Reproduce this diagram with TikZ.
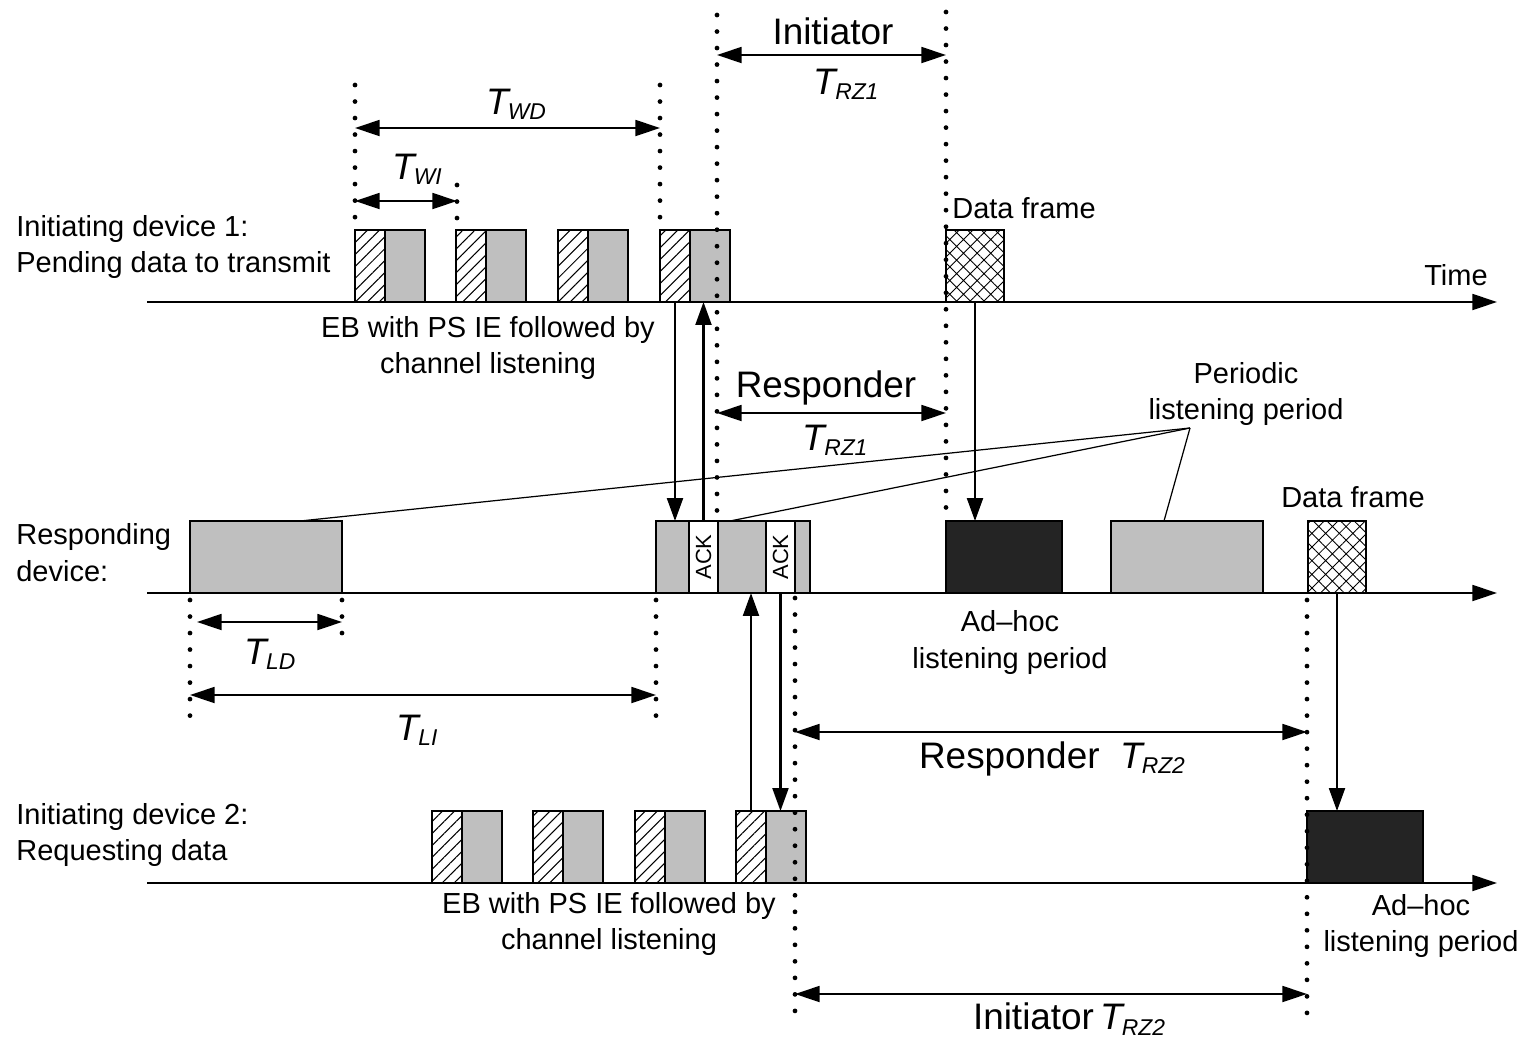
\documentclass[tikz,border=0pt]{standalone}
\usepackage{fontspec}
\setmainfont{Liberation Sans}
\usetikzlibrary{arrows.meta,patterns.meta,positioning}

\definecolor{lgrey}{gray}{0.75}
\definecolor{dgrey}{gray}{0.14}

% T with an italic subscript
\newcommand{\Tdur}[1]{{\fontsize{21}{21}\selectfont\itshape T}\kern-0.5pt\raisebox{-3pt}{\fontsize{13}{13}\selectfont\itshape #1}}

\begin{document}
\begin{tikzpicture}[
    x=0.02cm, y=-0.02cm,
    font=\fontsize{16.5}{21}\selectfont,
    frame/.style={draw, line width=1.3pt, anchor=south west, inner sep=0pt, outer sep=0pt, minimum height=1.44cm},
    ebhatch/.style={frame, minimum width=0.6cm, pattern={Lines[angle=45,distance=4.8pt,line width=0.6pt]}},
    listen/.style={frame, fill=lgrey},
    adhoc/.style={frame, fill=dgrey, minimum width=2.32cm},
    dataframe/.style={frame, minimum width=1.16cm, pattern={Hatch[angle=45,distance=5.5pt,line width=0.5pt]}},
    ackbox/.style={frame, fill=white, minimum width=0.58cm, font=\fontsize{12.5}{12.5}\selectfont},
    axis/.style={line width=1.4pt, -{Triangle[length=14pt,width=9pt]}},
    msg/.style={line width=1.4pt, -{Triangle[length=13pt,width=9pt]}},
    dim/.style={line width=1.4pt, {Triangle[length=14pt,width=9pt]}-{Triangle[length=14pt,width=9pt]}},
    guide/.style={line width=2.7pt, line cap=round, dash pattern=on 0pt off 9.4pt},
    leader/.style={line width=0.7pt},
    big/.style={font=\fontsize{21}{21}\selectfont},
    lbl/.style={align=center, inner sep=0pt}
]
\useasboundingbox (0,0) rectangle (1532,1039);

% time axes
\coordinate (a1s) at (147,302); \coordinate (a1e) at (1497,302);
\coordinate (a2s) at (147,593); \coordinate (a2e) at (1497,593);
\coordinate (a3s) at (147,883); \coordinate (a3e) at (1497,883);
\draw[axis] (a1s) -- (a1e);
\draw[axis] (a2s) -- (a2e);
\draw[axis] (a3s) -- (a3e);

% initiating device 1
\foreach \x [count=\i] in {355,456,558,660}{
    \node[ebhatch] (hA\i) at (\x,302) {};
    \node[listen, minimum width=0.8cm] (gA\i) at (hA\i.south east) {};
}
\node[dataframe] (df1) at (946,302) {};

% responding device
\node[listen, minimum width=3.04cm] (lp1) at (190,593) {};
\node[listen, minimum width=0.66cm] (rg1) at (656,593) {};
\node[ackbox] (ack1) at (rg1.south east) {\rotatebox{90}{ACK}};
\node[listen, minimum width=0.96cm] (rg2) at (ack1.south east) {};
\node[ackbox] (ack2) at (rg2.south east) {\rotatebox{90}{ACK}};
\node[listen, minimum width=0.3cm] (rg3) at (ack2.south east) {};
\node[adhoc] (ah1) at (946,593) {};
\node[listen, minimum width=3.04cm] (lp3) at (1111,593) {};
\node[dataframe] (df2) at (1308,593) {};

% initiating device 2
\foreach \x [count=\i] in {432,533,635,736}{
    \node[ebhatch] (hC\i) at (\x,883) {};
    \node[listen, minimum width=0.8cm] (gC\i) at (hC\i.south east) {};
}
\node[adhoc] (ah2) at (1307,883) {};

% dotted guides
\draw[guide] (355,85) -- (355,222);
\draw[guide] (457,185) -- (457,222);
\draw[guide] (660,85) -- (660,222);
\draw[guide] (717,15) -- (717,515);
\draw[guide] (946,12) -- (946,515);
\draw[guide] (190,600) -- (190,718);
\draw[guide] (342,600) -- (342,634);
\draw[guide] (656,600) -- (656,718);
\draw[guide] (795,598) -- (795,1015);
\draw[guide] (1307,600) -- (1307,1016);

% durations
\draw[dim] (717,55) -- (946,55);
\draw[dim] (355,128) -- (660,128);
\draw[dim] (355,201) -- (457,201);
\draw[dim] (717,413) -- (946,413);
\draw[dim] (197,622) -- (342,622);
\draw[dim] (190,695) -- (656,695);
\draw[dim] (795,732) -- (1307,732);
\draw[dim] (795,994) -- (1307,994);

% messages
\draw[msg] (hA4.south) -- (hA4.south |- rg1.north);
\draw[msg] (ack1.north) -- (ack1.north |- gA4.south);
\draw[msg] (df1.south) -- (df1.south |- ah1.north);
\draw[msg] (hC4.north) -- (hC4.north |- rg2.south);
\draw[msg] (ack2.south) -- (ack2.south |- gC4.north);
\draw[msg] (df2.south) -- (df2.south |- ah2.north);

% periodic listening leaders
\node[lbl] (plp) at (1246,394) {Periodic\\listening period};
\coordinate (plpt) at (1190,428);
\draw[leader] (plpt) -- ([xshift=0.68cm]lp1.north);
\draw[leader] (plpt) -- ([xshift=-0.24cm]rg2.north);
\draw[leader] (plpt) -- ([xshift=-0.46cm]lp3.north);

% labels
\node[lbl, anchor=west, align=left] (dev1) at (16,247) {Initiating device 1:\\Pending data to transmit};
\node[lbl, anchor=west, align=left] (resp) at (16,553) {Responding\\device:};
\node[lbl, anchor=west, align=left] (dev2) at (16,835) {Initiating device 2:\\Requesting data};
\node[lbl] (time) at (1456,275) {Time};
\node[lbl, anchor=west] (dfl1) at (952,208) {Data frame};
\node[lbl] (dfl2) at (1353,497) {Data frame};
\node[lbl] (eb1) at (488,348) {EB with PS IE followed by\\channel listening};
\node[lbl] (eb2) at (609,924) {EB with PS IE followed by\\channel listening};
\node[lbl, below=10pt of ah1.south, xshift=0.12cm] (ahl1) {Ad--hoc\\listening period};
\node[lbl] (ahl2) at (1421,926) {Ad--hoc\\listening period};

\node[lbl, big] (init1) at (833,31) {Initiator};
\node[lbl] (trz1a) at (846,84) {\Tdur{RZ1}};
\node[lbl] (twd) at (516,104) {\Tdur{WD}};
\node[lbl] (twi) at (417,169) {\Tdur{WI}};
\node[lbl, big] (resp1) at (826,388) {Responder};
\node[lbl] (trz1b) at (835,440) {\Tdur{RZ1}};
\node[lbl] (tld) at (270,654) {\Tdur{LD}};
\node[lbl] (tli) at (417,730) {\Tdur{LI}};
\node[lbl, big] (resp2) at (1052,759) {Responder\ \ \Tdur{RZ2}};
\node[lbl, big] (init2) at (1069,1019) {Initiator\,\Tdur{RZ2}};
\end{tikzpicture}
\end{document}
